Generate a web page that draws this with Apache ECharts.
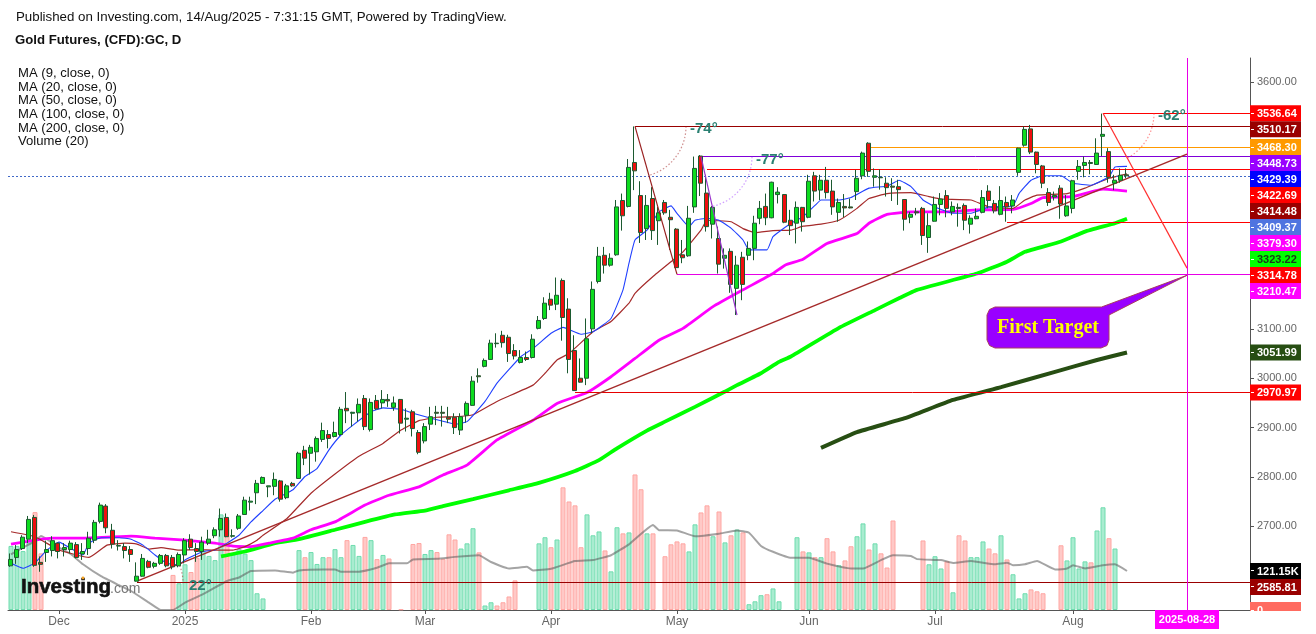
<!DOCTYPE html>
<html><head><meta charset="utf-8">
<style>html,body{margin:0;padding:0;background:#fff}#c{width:1316px;height:634px}</style>
<script src="https://cdn.jsdelivr.net/npm/echarts@6/dist/echarts.min.js"></script>
</head><body><div id="c"></div>
<script>
// [open, close, low, high]
const ohlc=[
[2620,2633,2618,2645],[2637,2653,2624,2662],[2655,2678,2652,2682],[2674,2714,2666,2721],[2718,2621,2618,2723],[2627,2623,2608,2639],[2647,2653,2628,2671],[2651,2671,2639,2680],[2666,2649,2635,2667],[2653,2657,2639,2666],
[2653,2666,2645,2671],[2663,2637,2635,2668],[2644,2649,2632,2666],[2655,2676,2642,2689],[2672,2708,2666,2713],[2710,2743,2706,2748],[2741,2697,2686,2745],[2692,2664,2655,2705],[2660,2661,2651,2672],[2659,2651,2635,2666],
[2653,2643,2628,2660],[2589,2599,2588,2627],[2599,2635,2598,2644],[2629,2617,2615,2632],[2619,2625,2615,2628],[2625,2641,2622,2644],[2641,2620,2617,2644],[2637,2618,2613,2642],[2620,2643,2617,2647],[2642,2671,2625,2676],
[2674,2657,2652,2684],[2655,2649,2628,2666],[2649,2668,2632,2679],[2666,2674,2662,2693],[2681,2693,2676,2698],[2693,2716,2679,2736],[2718,2679,2678,2726],[2680,2681,2677,2694],[2696,2721,2693,2725],[2724,2753,2723,2760],
[2749,2751,2732,2760],[2768,2787,2745,2794],[2787,2799,2786,2801],[2780,2782,2759,2782],[2781,2795,2763,2809],[2792,2755,2750,2794],[2758,2782,2755,2786],[2787,2782,2780,2790],[2797,2848,2796,2851],[2854,2838,2824,2863],
[2848,2860,2805,2865],[2851,2878,2831,2882],[2876,2894,2871,2910],[2886,2878,2858,2895],[2882,2890,2880,2912],[2886,2937,2883,2942],[2939,2934,2909,2972],[2929,2931,2902,2932],[2930,2947,2912,2959],[2959,2902,2895,2966],
[2896,2951,2892,2959],[2955,2938,2936,2966],[2950,2957,2939,2976],[2957,2954,2942,2968],[2941,2950,2934,2963],[2957,2909,2888,2958],[2917,2919,2892,2939],[2932,2898,2882,2936],[2890,2850,2846,2895],[2873,2902,2868,2909],
[2907,2922,2895,2942],[2931,2929,2905,2944],[2931,2929,2902,2944],[2921,2917,2909,2942],[2921,2900,2887,2929],[2895,2922,2885,2929],[2925,2949,2910,2953],[2945,2994,2944,3004],[3005,3003,2991,3020],[3024,3036,3022,3040],
[3038,3071,3037,3078],[3071,3070,3062,3091],[3087,3072,3062,3096],[3083,3050,3033,3088],[3056,3045,3038,3069],[3032,3042,3030,3057],[3042,3038,3035,3054],[3042,3079,3040,3089],[3101,3117,3099,3126],[3121,3152,3118,3164],
[3160,3148,3138,3173],[3150,3168,3138,3204],[3198,3123,3076,3202],[3140,3038,3010,3162],[3056,2975,2975,3087],[3000,2992,2991,3040],[3000,3080,2986,3121],[3100,3180,3091,3196],[3196,3247,3192,3266],[3249,3229,3212,3266],
[3229,3243,3226,3253],[3250,3347,3248,3361],[3360,3329,3299,3374],[3348,3427,3346,3444],[3437,3420,3381,3510],[3370,3295,3274,3399],[3303,3350,3280,3371],[3364,3299,3280,3387],[3319,3335,3270,3347],[3356,3335,3331,3361],
[3326,3321,3260,3341],[3302,3224,3222,3304],[3250,3244,3233,3280],[3248,3324,3246,3349],[3347,3425,3335,3449],[3450,3395,3369,3452],[3375,3307,3297,3412],[3312,3346,3283,3349],[3283,3231,3212,3307],[3243,3249,3222,3263],
[3257,3190,3173,3263],[3182,3229,3128,3248],[3245,3190,3158,3256],[3249,3263,3239,3277],[3263,3314,3239,3329],[3324,3344,3312,3359],[3348,3325,3310,3374],[3325,3397,3324,3398],[3372,3377,3354,3387],[3372,3316,3314,3373],
[3320,3309,3290,3341],[3314,3346,3273,3358],[3346,3317,3297,3347],[3326,3399,3324,3412],[3410,3379,3358,3418],[3381,3401,3361,3412],[3401,3376,3364,3428],[3379,3347,3331,3402],[3336,3356,3317,3364],[3348,3345,3326,3373],
[3347,3345,3344,3364],[3378,3405,3361,3422],[3410,3456,3403,3459],[3476,3419,3408,3478],[3407,3410,3388,3425],[3407,3406,3382,3423],[3395,3386,3368,3407],[3389,3387,3359,3405],[3388,3382,3351,3402],[3362,3322,3299,3363],
[3326,3332,3314,3337],[3337,3335,3330,3345],[3344,3289,3270,3347],[3285,3309,3254,3334],[3318,3352,3317,3368],[3352,3363,3330,3375],[3370,3344,3326,3381],[3337,3348,3330,3358],[3346,3344,3307,3354],[3350,3320,3300,3354],
[3312,3324,3293,3330],[3323,3328,3322,3344],[3336,3366,3334,3381],[3379,3360,3344,3391],[3354,3339,3334,3361],[3332,3360,3330,3389],[3356,3347,3317,3368],[3349,3361,3334,3371],[3417,3466,3410,3467],[3472,3504,3469,3510],
[3505,3458,3454,3513],[3458,3433,3415,3459],[3430,3395,3385,3432],[3376,3356,3349,3385],[3367,3370,3360,3378],[3385,3353,3323,3391],[3329,3349,3327,3371],[3344,3400,3334,3402],[3419,3429,3402,3442],[3431,3437,3407,3449],
[3437,3435,3413,3442],[3433,3456,3432,3486],[3490,3494,3450,3536],[3459,3407,3396,3466],[3395,3401,3381,3412],[3401,3411,3396,3425],[3412,3410,3405,3425]
];
// thousands of contracts, null where the picture has no bar
const N=null;
const volumes=[199,199,183,214,304,176,N,N,N,N,N,N,N,N,N,N,N,N,N,N,N,N,N,N,N,N,N,
109,83,142,118,162,183,168,155,297,282,173,190,175,155,52,36,N,N,N,N,N,
186,164,180,143,164,164,189,164,217,202,168,227,217,158,171,160,N,2,N,
205,208,174,186,180,159,235,219,191,207,254,179,14,24,14,24,42,92,N,N,N,
207,226,195,219,381,337,325,195,297,232,244,185,120,257,238,241,421,375,238,238,N,
167,204,213,207,182,266,303,325,229,306,210,232,250,241,18,27,46,49,67,27,N,N,
226,182,179,164,164,223,182,139,154,198,229,269,188,207,176,132,278,N,N,N,N,
216,142,167,129,151,55,232,216,164,164,213,191,176,232,157,111,36,52,64,58,52,N,N,
201,154,226,129,151,148,247,319,223,191,N,N];
// moving averages read at sample bars: [bar index, value]
const ma9=[[0,2625],[2,2615],[4,2626],[6,2652],[8,2668],[10,2655],[12,2642],[13,2666],[15,2677],[18,2677],[20,2674],[22,2662],[24,2642],[26,2625],[28,2622],[29,2632],[32,2649],[34,2652],[36,2666],[38,2682],[40,2709],[42,2732],[44,2755],[47,2774],[49,2801],[51,2817],[53,2855],[55,2885],[57,2905],[60,2932],[62,2940],[65,2937],[67,2929],[70,2919],[72,2913],[74,2907],[76,2912],[79,2953],[81,2990],[85,3044],[87,3060],[90,3091],[92,3103],[95,3089],[97,3094],[100,3121],[102,3179],[103,3233],[104,3280],[106,3300],[108,3337],[110,3349],[111,3334],[113,3307],[114,3320],[116,3324],[118,3320],[120,3304],[122,3280],[123,3260],[126,3260],[127,3287],[130,3314],[132,3327],[134,3350],[135,3361],[138,3361],[140,3366],[143,3385],[146,3389],[148,3401],[150,3388],[152,3361],[154,3347],[157,3334],[160,3334],[163,3347],[167,3349],[168,3374],[170,3401],[172,3410],[175,3410],[177,3395],[180,3391],[183,3408],[184,3428],[186,3429]];
const ma20=[[0,2689],[4,2679],[8,2652],[13,2637],[16,2662],[19,2666],[21,2664],[23,2654],[25,2657],[28,2652],[31,2653],[34,2652],[37,2652],[39,2659],[41,2672],[42,2682],[46,2716],[50,2767],[54,2806],[58,2842],[62,2868],[65,2895],[68,2914],[71,2921],[74,2922],[77,2926],[81,2953],[87,2986],[89,3010],[91,3037],[93,3050],[97,3094],[100,3115],[103,3152],[104,3172],[107,3206],[110,3236],[112,3256],[115,3300],[116,3320],[120,3317],[122,3303],[124,3295],[127,3299],[130,3300],[132,3308],[135,3312],[138,3320],[141,3344],[143,3364],[146,3374],[150,3376],[153,3368],[155,3363],[160,3361],[163,3347],[167,3344],[169,3361],[171,3371],[176,3374],[179,3385],[183,3405],[186,3414]];
const ma50=[[0,2664],[4,2672],[7,2676],[12,2676],[20,2680],[24,2676],[29,2672],[34,2666],[37,2660],[40,2659],[43,2666],[47,2676],[50,2693],[54,2709],[59,2743],[63,2763],[68,2780],[72,2804],[76,2824],[81,2875],[87,2915],[91,2949],[96,2971],[100,3003],[104,3040],[108,3077],[112,3101],[117,3145],[122,3179],[127,3212],[129,3229],[132,3241],[136,3273],[141,3293],[143,3314],[146,3332],[150,3337],[156,3337],[161,3341],[167,3342],[170,3354],[172,3366],[177,3368],[182,3383],[186,3379]];
const ma100=[[35,2639],[39,2649],[44,2666],[48,2674],[54,2693],[59,2709],[64,2724],[69,2732],[72,2741],[77,2755],[83,2773],[88,2788],[94,2812],[98,2834],[101,2858],[106,2894],[109,2912],[114,2942],[119,2973],[121,2986],[125,3010],[128,3033],[130,3044],[138,3102],[144,3138],[148,3162],[151,3179],[161,3212],[166,3236],[169,3256],[175,3277],[179,3297],[184,3314],[186,3323]];
const ma200=[[135,2859],[141,2891],[149,2919],[157,2956],[165,2982],[174,3013],[181,3037],[186,3052]];
const volMa=[[0,173],[2,194],[4,214],[5,230],[8,194],[10,173],[12,142],[15,105],[18,77],[20,59],[23,23],[25,0],[27,0],[29,23],[32,49],[36,90],[38,101],[40,121],[44,123],[47,116],[48,123],[52,126],[54,126],[55,119],[58,119],[61,131],[63,145],[66,145],[67,157],[71,159],[74,165],[78,170],[80,149],[83,129],[86,134],[87,123],[90,128],[94,152],[97,155],[100,170],[103,204],[107,264],[108,248],[111,247],[114,229],[118,237],[121,247],[123,240],[125,199],[127,181],[130,162],[133,162],[136,144],[140,129],[142,129],[145,155],[147,170],[150,168],[151,158],[155,155],[157,146],[160,152],[164,142],[166,147],[167,139],[169,142],[171,152],[174,126],[176,129],[177,139],[179,129],[182,139],[184,142],[186,121.15]];
// horizontal levels
const levelValues=[3536.64,3510.17,3468.30,3448.73,3422.69,3314.78,3210.47,2970.97,2585.81];
const levelStarts=[182,104,143,115,116,166,111,94,21];
const lastClose=3409.37;
// drawn segments: [fromBar, fromPrice, toBar, toPrice]
const trendSegment=[21,2589,196,3454];
const dropSegments=[[104,3510.17,111,3210.47],[115,3448.73,121,3128],[182,3536.64,196,3223]];
// angle marks: [bar, price, angle degrees, label]
const angleMarks=[[104,3510.17,74,'-74°'],[115,3448.73,77,'-77°'],[182,3536.64,62,'-62°'],[21,2585.81,-22,'22°']];
const targetBar=196, targetDate='2025-08-28';
const monthTickBars=[8,29,50,69,90,111,133,154,177];
const monthTickLabels=['Dec','2025','Feb','Mar','Apr','May','Jun','Jul','Aug'];
const priceTicks=[2600,2700,2800,2900,3000,3100,3200,3300,3400,3500,3600];
const priceTags=[3536.64,3510.17,3468.30,3448.73,3429.39,3422.69,3414.48,3409.37,3379.30,3323.22,3314.78,3210.47,3051.99,2970.97];
const volumeTag=121.15, lastVolumeTag=0, supportTag=2585.81;
const legendLines=['MA (9, close, 0)','MA (20, close, 0)','MA (50, close, 0)','MA (100, close, 0)','MA (200, close, 0)','Volume (20)'];
const BAR_COUNT=207;

// styles
const levelColors=['#ff0000','#990000','#ff9900','#7f00d9','#ff0000','#ff0000','#e600e6','#e60000','#990000'];
const dropColors=['#992020','#9933cc','#ff3030'];
const arcColors=['rgba(160,30,30,.5)','rgba(170,80,255,.55)','rgba(255,60,60,.55)','rgba(160,30,30,.5)'];
const tagColors=['#ff0000','#990000','#ff9900','#9900ff','#0000ff','#ff0000','#990000','#4f74e0','#ff00ff','#00ff00','#ff0000','#ff00ff','#274e13','#ff0000'];
const FONT='"Liberation Sans", Arial, sans-serif';
const crisp=v=>Math.round(v-0.5)+0.5;
const categories=Array.from({length:BAR_COUNT},(_,i)=>String(i));
const chart=echarts.init(document.getElementById('c'),null,{renderer:'canvas',width:1316,height:634});
const maLine=(name,data,color,width,z,op)=>({name,type:'line',data,xAxisIndex:0,yAxisIndex:0,symbol:'none',smooth:0.12,z,silent:true,animation:false,
  lineStyle:{color,width,opacity:op||1}});
const segment=(s,color,width,z)=>({type:'line',data:[[s[0],s[1]],[s[2],s[3]]],xAxisIndex:0,yAxisIndex:0,symbol:'none',z,silent:true,animation:false,lineStyle:{color,width}});
const series=[
 {name:'Volume',type:'bar',xAxisIndex:1,yAxisIndex:1,barWidth:5,z:1,animation:false,
  data:volumes.map((v,i)=>{const up=ohlc[i]&&ohlc[i][1]>=ohlc[i][0];return {value:v,itemStyle:{color:up?'#a9ecd0':'#ffc9c7',borderColor:up?'#6fdcae':'#ffa6a2',borderWidth:1}}})},
 {name:'Volume MA',type:'line',xAxisIndex:1,yAxisIndex:1,data:volMa,symbol:'none',smooth:0.12,z:2,animation:false,lineStyle:{color:'rgba(90,90,90,.55)',width:2}},
 maLine('MA 200',ma200,'#274e13',4,3),
 maLine('MA 100',ma100,'#00ff00',3.8,3),
 maLine('MA 50',ma50,'#ff00ff',2.8,3),
 maLine('MA 20',ma20,'#a52a2a',1.2,3),
 maLine('MA 9',ma9,'#2040ff',1.1,3),
 {name:'Levels',type:'custom',xAxisIndex:0,yAxisIndex:0,z:4,clip:false,animation:false,silent:true,
  data:levelValues.map((v,i)=>[levelStarts[i],v,i]),
  renderItem(p,api){const a=api.coord([api.value(0),api.value(1)]);const c=p.coordSys;const y=crisp(a[1]);
    return {type:'line',shape:{x1:a[0],y1:y,x2:c.x+c.width,y2:y},style:{stroke:levelColors[api.value(2)],lineWidth:1}}}},
 {name:'Last',type:'custom',xAxisIndex:0,yAxisIndex:0,z:4,animation:false,silent:true,data:[[0,lastClose]],
  renderItem(p,api){const a=api.coord([0,api.value(1)]);const c=p.coordSys;const y=crisp(a[1]);
    return {type:'line',shape:{x1:c.x,y1:y,x2:c.x+c.width,y2:y},style:{stroke:'#4169c8',lineWidth:1,lineDash:[2,2]}}}},
 segment(trendSegment,'#a52a2a',1.5,4),
 ...dropSegments.map((s,i)=>segment(s,dropColors[i],1.2,6)),
 {name:'OHLC',type:'candlestick',xAxisIndex:2,yAxisIndex:2,data:ohlc,barWidth:4.5,z:5,animation:false,
  itemStyle:{color:'#0ddc1f',color0:'#ee0f0f',borderColor:'#1c5a30',borderColor0:'#1c5a30',borderWidth:1}},
 {name:'Angles',type:'custom',xAxisIndex:0,yAxisIndex:0,z:7,clip:false,animation:false,silent:true,
  data:angleMarks.map((m,i)=>[m[0],m[1],m[2],i]),
  renderItem(p,api){const a=api.coord([api.value(0),api.value(1)]);const d=api.value(2),i=api.value(3);const r=d<0?46:51;
    const t=d*Math.PI/180;
    return {type:'group',children:[
     {type:'arc',shape:{cx:a[0],cy:a[1],r,startAngle:Math.min(0,t),endAngle:Math.max(0,t)},style:{fill:null,stroke:arcColors[i],lineWidth:1.2,lineDash:[1.5,2]}},
     {type:'text',style:{text:angleMarks[i][3],x:a[0]+(d<0?52:55),y:a[1]+3,fill:'#2a8072',font:'bold 15px '+FONT,textVerticalAlign:'middle'}}
    ]}}}
];
chart.setOption({
 animation:false,backgroundColor:'#fff',
 grid:[{left:8,width:1242,top:32.63,height:592.44},{left:8,width:1242,top:58,height:552},{left:7,width:1242,top:32.63,height:592.44}],
 xAxis:[
  {type:'category',gridIndex:0,data:categories,show:false,boundaryGap:true},
  {type:'category',gridIndex:1,data:categories,boundaryGap:true,
   axisLine:{lineStyle:{color:'#555',width:1}},
   axisTick:{show:true,length:4,alignWithLabel:true,interval:(i)=>monthTickBars.includes(i),lineStyle:{color:'#555'}},
   axisLabel:{interval:(i)=>monthTickBars.includes(i),color:'#666',fontFamily:FONT,fontSize:12,margin:6,hideOverlap:false,
    formatter:(v,i)=>{const k=monthTickBars.indexOf(+v);return k<0?'':monthTickLabels[k]}}},
  {type:'category',gridIndex:2,data:categories,show:false,boundaryGap:true}
 ],
 yAxis:[
  {type:'value',gridIndex:0,position:'right',min:2500,max:3700,interval:100,splitLine:{show:false},axisLine:{show:false},
   axisTick:{show:true,length:4,customValues:priceTicks,lineStyle:{color:'#555'}},
   axisLabel:{customValues:priceTicks,color:'#666',fontFamily:FONT,fontSize:11,margin:7,formatter:v=>(+v).toFixed(2)}},
  {type:'value',gridIndex:1,position:'right',min:0,max:1714.5,splitLine:{show:false},axisTick:{show:false},axisLabel:{show:false},
   axisLine:{show:true,lineStyle:{color:'#555',width:1}}},
  {type:'value',gridIndex:2,min:2500,max:3700,interval:100,show:false,splitLine:{show:false}}
 ],
 series
});
// price tags slide down so that they never overlap, as in the platform's scale
const TAG_H=16, TAG_X=1250, TAG_W=51;
const py=v=>chart.convertToPixel({yAxisIndex:0},v), vy=v=>chart.convertToPixel({yAxisIndex:1},v);
const tags=priceTags.map((v,i)=>({text:v.toFixed(2),bg:tagColors[i],fg:tagColors[i]==='#00ff00'?'#1a3a1a':'#fff',y:py(v)}));
tags.push({text:volumeTag.toFixed(2)+'K',bg:'#000',fg:'#fff',y:vy(volumeTag)});
tags.push({text:supportTag.toFixed(2),bg:'#990000',fg:'#fff',y:py(supportTag)});
tags.push({text:String(lastVolumeTag),bg:'#ff6b60',fg:'#fff',y:vy(lastVolumeTag)});
const els=[];
let prev=-1e9;
tags.forEach(t=>{t.y=Math.max(t.y,prev+TAG_H);prev=t.y;
 els.push({type:'rect',z:50,shape:{x:TAG_X,y:t.y-TAG_H/2,width:TAG_W,height:TAG_H},style:{fill:t.bg}});
 els.push({type:'line',z:51,shape:{x1:TAG_X+1,y1:crisp(t.y),x2:TAG_X+4,y2:crisp(t.y)},style:{stroke:'#fff',lineWidth:1}});
 els.push({type:'text',z:51,style:{text:t.text,x:TAG_X+7,y:t.y+.5,fill:t.fg,font:'bold 11px '+FONT,textVerticalAlign:'middle'}});
});
// the last tag runs under the plot's bottom edge
els.push({type:'rect',z:52,shape:{x:TAG_X,y:611,width:TAG_W+4,height:12},style:{fill:'#fff'}});
const tx=chart.convertToPixel({xAxisIndex:1},targetBar);
els.push({type:'line',z:8,shape:{x1:crisp(tx),y1:58,x2:crisp(tx),y2:610},style:{stroke:'#e600e6',lineWidth:1}});
els.push({type:'rect',z:53,shape:{x:tx-32,y:610,width:64,height:19},style:{fill:'#ff00ff'}});
els.push({type:'text',z:54,style:{text:targetDate,x:tx,y:620,fill:'#fff',font:'bold 11px '+FONT,textAlign:'center',textVerticalAlign:'middle'}});
// header
const txt=(t,x,y,font,fill)=>({type:'text',z:60,style:{text:t,x,y,font,fill:fill||'#111',textVerticalAlign:'middle'}});
els.push(txt('Published on Investing.com, 14/Aug/2025 - 7:31:15 GMT, Powered by TradingView.',16,17.5,'13.3px '+FONT));
els.push(txt('Gold Futures, (CFD):GC, D',15,40.5,'bold 13.2px '+FONT));
legendLines.forEach((l,i)=>els.push(txt(l,18,73.5+i*13.6,'13.1px '+FONT)));
// logo
els.push({type:'text',z:60,style:{text:'Investing',x:21,y:587,font:'bold 20.5px '+FONT,fill:'#111',stroke:'#111',lineWidth:0.6,textVerticalAlign:'middle'}});
els.push(txt('.com',110,589.5,'14px '+FONT,'#777'));
els.push({type:'circle',z:61,shape:{cx:83,cy:578,r:1.4},style:{fill:'#f4a020'}});
// callout
const tipX=tx, tipY=py(3210.47)+1;
els.push({type:'polygon',z:55,shape:{points:[[995,307],[1101.5,307],[tipX,tipY],[1109,315],[1109,340],[1107,345.5],[1101,348],[995,348],[989.5,345.5],[987,340],[987,315],[989.5,309.5]]},
 style:{fill:'#9900ff',stroke:'#a83c60',lineWidth:1,lineJoin:'round'}});
els.push({type:'text',z:56,style:{text:'First Target',x:1048,y:327.5,fill:'#ffff00',font:'bold 20px "Liberation Serif", "Times New Roman", serif',textAlign:'center',textVerticalAlign:'middle'}});
chart.setOption({graphic:{elements:els}});
</script></body></html>
